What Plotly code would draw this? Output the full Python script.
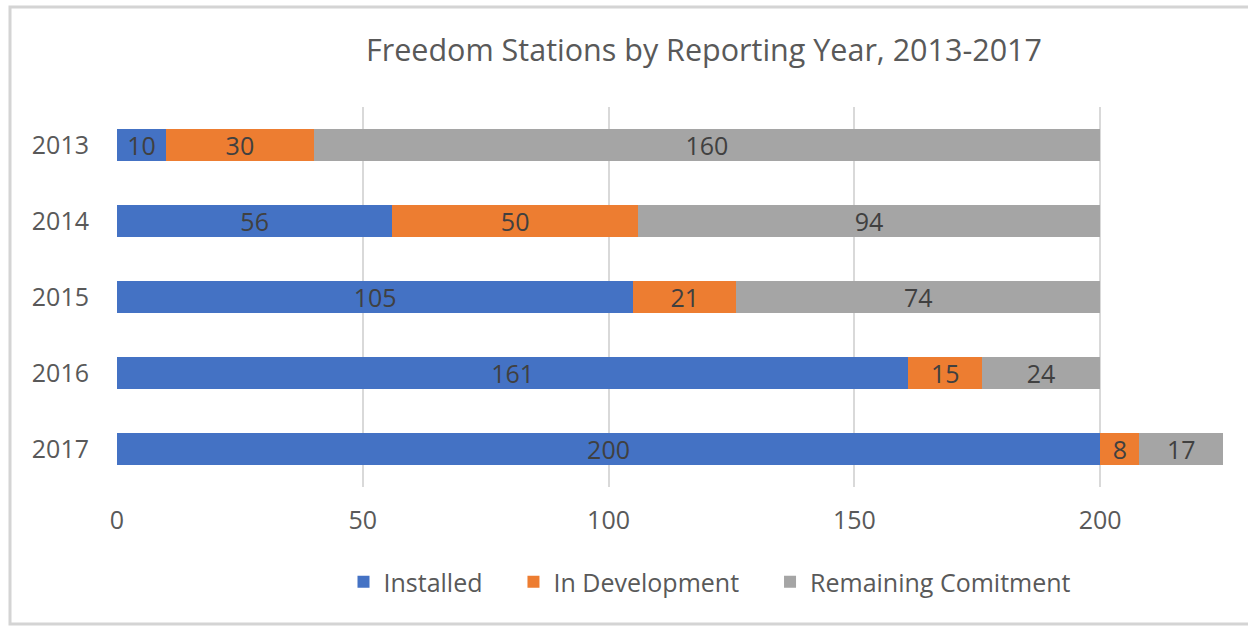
import plotly.graph_objects as go

years = ["2013", "2014", "2015", "2016", "2017"]
installed = [10, 56, 105, 161, 200]
in_development = [30, 50, 21, 15, 8]
remaining = [160, 94, 74, 24, 17]
series_names = ["Installed", "In Development", "Remaining Comitment"]
colors = ["#4472C4", "#ED7D31", "#A5A5A5"]
x_ticks = [0, 50, 100, 150, 200]

FONT = "Open Sans"
W, H = 1248, 626
ML, MR, MT, MB = 117, 25, 107, 139
PAD = "\u00a0" * 4

fig = go.Figure()
for i, (name, vals, col) in enumerate(zip(series_names, [installed, in_development, remaining], colors)):
    fig.add_trace(go.Bar(
        y=years, x=vals, name=name + (PAD if i < len(series_names) - 1 else ""),
        orientation="h",
        marker=dict(color=col, line=dict(width=0)),
        text=[str(v) for v in vals], textposition="inside", textangle=0,
        insidetextanchor="middle", constraintext="none",
        textfont=dict(family=FONT, size=25, color="#404040"),
        hovertemplate=name + ": %{x}<extra></extra>",
    ))

pw = W - ML - MR
ph = H - MT - MB
def px_x(p):
    return (p - ML) / pw
def px_y(p):
    return (H - MB - p) / ph

fig.add_shape(type="rect", xref="paper", yref="paper",
              x0=px_x(10), x1=px_x(1270), y0=px_y(624), y1=px_y(7),
              line=dict(color="#D4D4D4", width=3), fillcolor="rgba(0,0,0,0)", layer="below")

fig.update_layout(
    width=W, height=H,
    margin=dict(l=ML, r=MR, t=MT, b=MB),
    barmode="stack", bargap=0.59,
    paper_bgcolor="white", plot_bgcolor="white",
    font=dict(family=FONT, color="#595959"),
    title=dict(text="Freedom Stations by Reporting Year, 2013-2017",
               x=704 / W, xref="container", xanchor="center",
               y=1 - 50 / H, yref="container", yanchor="middle",
               font=dict(family=FONT, size=30.5, color="#595959")),
    xaxis=dict(range=[0, 225], tickvals=x_ticks, showgrid=True, gridcolor="#D9D9D9",
               gridwidth=1.5, zeroline=False, showline=False,
               tickfont=dict(family=FONT, size=25, color="#595959"), ticklabelstandoff=16),
    yaxis=dict(categoryorder="array", categoryarray=years, autorange="reversed",
               showgrid=False, zeroline=False, showline=False,
               tickfont=dict(family=FONT, size=25, color="#595959"), ticklabelstandoff=27),
    legend=dict(orientation="h", xref="container", yref="container",
                x=710 / W, xanchor="center", y=1 - 582 / H, yanchor="middle",
                font=dict(family=FONT, size=25, color="#595959"),
                traceorder="normal", itemsizing="constant"),
    showlegend=True,
)

fig.write_html("out.html", config={"displayModeBar": False},
               post_script="document.body.style.margin='0px';document.body.style.overflow='hidden';")
